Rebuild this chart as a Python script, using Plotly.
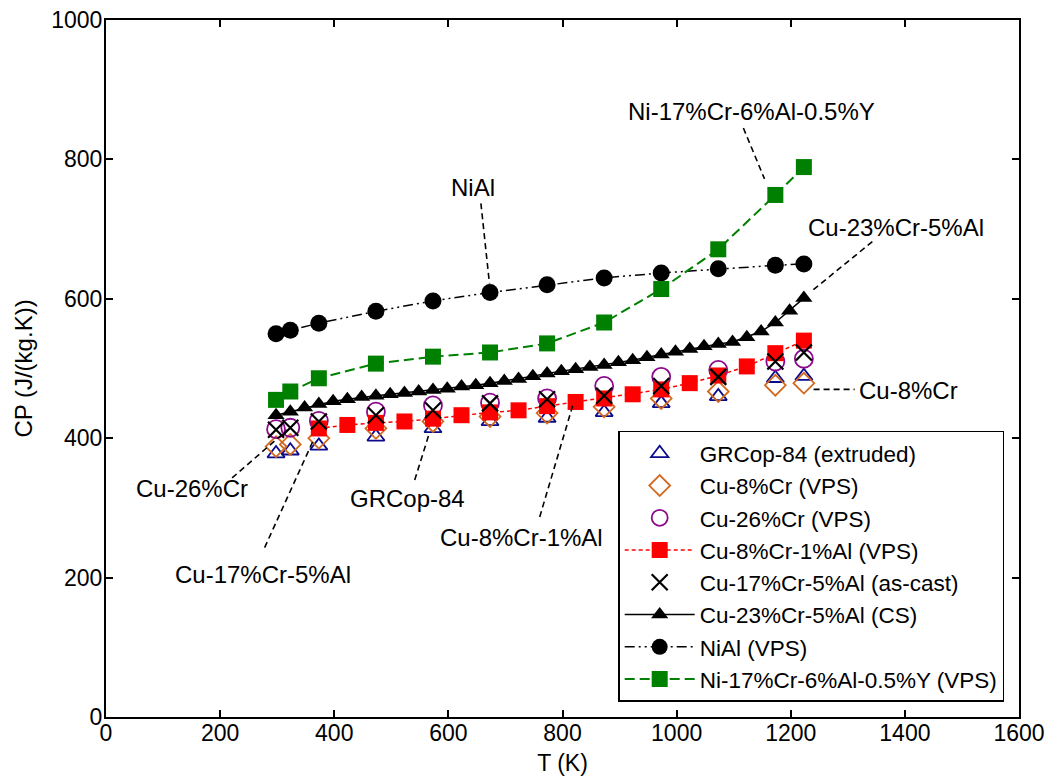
import plotly.graph_objects as go

# ---------------- data ----------------
T12 = [298, 323, 373, 473, 573, 673, 773, 873, 973, 1073, 1173, 1223]
grcop84 = [378, 382, 389, 402, 414, 424, 429, 437, 450, 460, 486, 489]
cu8cr = [388, 391, 400, 414, 424, 431, 436, 445, 457, 467, 476, 479]
cu26cr = [413, 415, 425, 438, 447, 451, 457, 475, 488, 498, 510, 514]
cu17cr5al = [412, 415, 424, 433, 440, 450, 456, 461, 475, 488, 510, 523]
nial = [550, 555, 565, 582, 597, 609, 620, 630, 637, 643, 648, 650]
ni17cr = [455, 467, 486, 507, 517, 523, 536, 566, 614, 671, 749, 789]

T_cu8cr1al = [373, 423, 473, 523, 573, 623, 673, 723, 773, 823, 873, 923,
              973, 1023, 1073, 1123, 1173, 1223]
cu8cr1al = [414, 419, 422, 424, 428, 433, 437, 440, 446, 452, 457, 463,
            470, 479, 490, 503, 522, 540]

T_cu23cr5al = [298, 323, 348, 373, 398, 423, 448, 473, 498, 523, 548, 573,
               598, 623, 648, 673, 698, 723, 748, 773, 798, 823, 848, 873,
               898, 923, 948, 973, 998, 1023, 1048, 1073, 1098, 1123, 1148,
               1173, 1198, 1223]
cu23cr5al = [433, 438, 444, 449, 453, 456, 459, 461, 463, 465, 467, 469,
             471, 474, 476, 479, 482, 485, 489, 493, 496, 499, 502, 505,
             509, 512, 516, 520, 524, 528, 532, 535, 538, 545, 553, 566,
             583, 601]

x_ticks = [0, 200, 400, 600, 800, 1000, 1200, 1400, 1600]
y_ticks = [0, 200, 400, 600, 800, 1000]

# callout labels: text, text position (T, Cp), leader start, leader end
labels = [
    ("Ni-17%Cr-6%Al-0.5%Y", (1132, 869), (1117, 845), (1154, 772)),
    ("Cu-23%Cr-5%Al", (1385, 702), (1343, 682), (1238, 612)),
    ("NiAl", (643, 760), (657, 737), (672, 622)),
    ("Cu-8%Cr", (1406, 469), (1240, 470), (1312, 470)),
    ("Cu-26%Cr", (150, 328), (221, 343), (318, 412)),
    ("Cu-17%Cr-5%Al", (275, 205), (278, 243), (365, 400)),
    ("GRCop-84", (528, 314), (541, 340), (565, 403)),
    ("Cu-8%Cr-1%Al", (729, 257), (760, 287), (818, 447)),
]

FONT = "Liberation Sans, Arial, Helvetica, sans-serif"

fig = go.Figure()

fig.add_trace(go.Scatter(
    x=T12, y=grcop84, mode="markers", name="GRCop-84 (extruded)",
    marker=dict(symbol="triangle-up-open", size=15, color="#0b0b8c",
                line=dict(width=1.8, color="#0b0b8c"))))
fig.add_trace(go.Scatter(
    x=T12, y=cu8cr, mode="markers", name="Cu-8%Cr (VPS)",
    marker=dict(symbol="diamond-open", size=16, color="#d2691e",
                line=dict(width=1.8, color="#d2691e"))))
fig.add_trace(go.Scatter(
    x=T12, y=cu26cr, mode="markers", name="Cu-26%Cr (VPS)",
    marker=dict(symbol="circle-open", size=18, color="#8b0a8b",
                line=dict(width=1.8, color="#8b0a8b"))))
fig.add_trace(go.Scatter(
    x=T_cu8cr1al, y=cu8cr1al, mode="lines+markers", name="Cu-8%Cr-1%Al (VPS)",
    line=dict(color="#ff0000", width=1.5, dash="4px,3px"),
    marker=dict(symbol="square", size=16, color="#ff0000")))
fig.add_trace(go.Scatter(
    x=T12, y=cu17cr5al, mode="markers", name="Cu-17%Cr-5%Al (as-cast)",
    marker=dict(symbol="x-thin-open", size=16, color="black",
                line=dict(width=2.2, color="black"))))
fig.add_trace(go.Scatter(
    x=T_cu23cr5al, y=cu23cr5al, mode="lines+markers", name="Cu-23%Cr-5%Al (CS)",
    line=dict(color="black", width=1.5),
    marker=dict(symbol="triangle-up", size=15, color="black")))
fig.add_trace(go.Scatter(
    x=T12, y=nial, mode="lines+markers", name="NiAl (VPS)",
    line=dict(color="black", width=1.5, dash="10px,4px,2px,4px,2px,4px"),
    marker=dict(symbol="circle", size=17, color="black")))
fig.add_trace(go.Scatter(
    x=T12, y=ni17cr, mode="lines+markers", name="Ni-17%Cr-6%Al-0.5%Y (VPS)",
    line=dict(color="#008000", width=2, dash="10px,5px"),
    marker=dict(symbol="square", size=16, color="#008000")))

for text, tpos, p0, p1 in labels:
    fig.add_shape(type="line", xref="x", yref="y",
                  x0=p0[0], y0=p0[1], x1=p1[0], y1=p1[1],
                  line=dict(color="black", width=1.6, dash="6px,4px"))
    fig.add_annotation(x=tpos[0], y=tpos[1], xref="x", yref="y", text=text,
                       showarrow=False, font=dict(size=24, color="black", family=FONT))

axis_common = dict(showline=True, linecolor="black", linewidth=2, mirror="ticks",
                   ticks="inside", ticklen=7, tickwidth=1.5, tickcolor="black",
                   showgrid=False, zeroline=False, automargin=False,
                   tickfont=dict(size=23, color="black", family=FONT))

fig.update_xaxes(range=[0, 1600], tickvals=x_ticks, ticklabelstandoff=-6,
                 title=dict(text="T (K)", font=dict(size=23, color="black", family=FONT), standoff=10),
                 **axis_common)
fig.update_yaxes(range=[0, 1000], tickvals=y_ticks, ticklabelstandoff=-3,
                 title=dict(text="CP (J/(kg.K))", font=dict(size=24, color="black", family=FONT), standoff=12),
                 **axis_common)

fig.update_layout(
    width=1048, height=783,
    margin=dict(l=106, r=29, t=20, b=66),
    paper_bgcolor="white", plot_bgcolor="white",
    font=dict(family=FONT, size=22, color="black"),
    legend=dict(x=0.561, y=0.022, xanchor="left", yanchor="bottom",
                bgcolor="white", bordercolor="black", borderwidth=1.5,
                font=dict(size=22.5, color="black", family=FONT),
                itemwidth=70, tracegroupgap=0),
    showlegend=True,
)

fig.write_html("out.html")
